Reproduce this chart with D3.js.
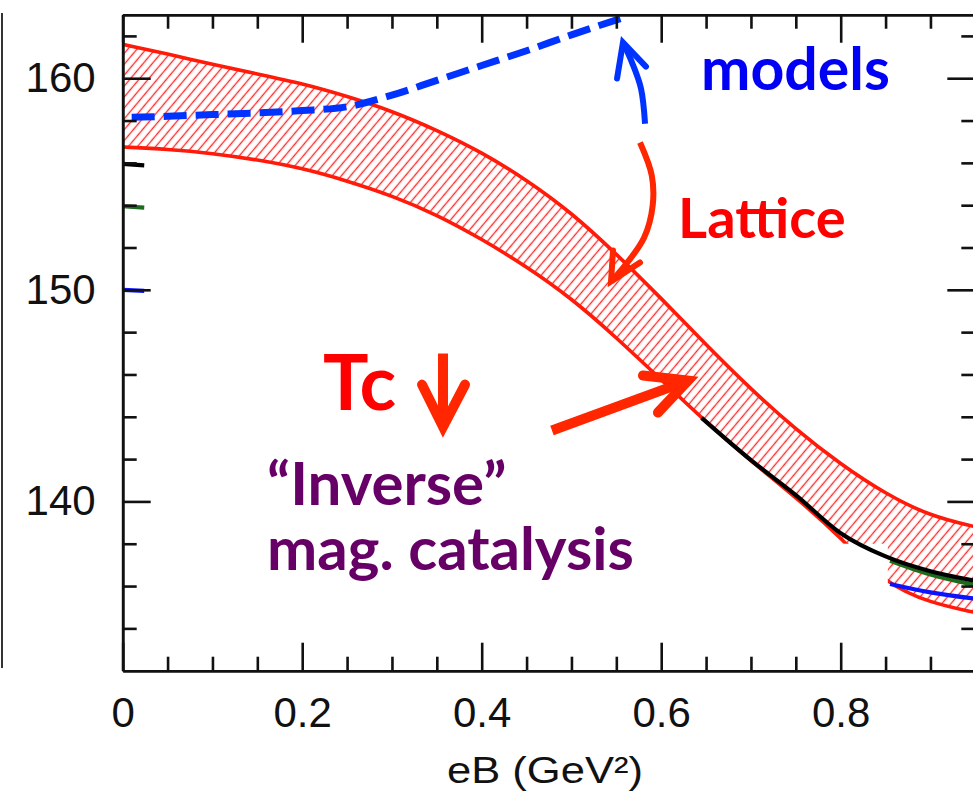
<!DOCTYPE html>
<html>
<head>
<meta charset="utf-8">
<script src="https://cdn.jsdelivr.net/npm/d3@7"></script>
<style>
  body { margin: 0; background: #fff; }
</style>
</head>
<body>
<div id="chart"></div>
<script>
// ---- data ----
const eB = [0, 0.05, 0.1, 0.15, 0.2, 0.25, 0.3, 0.35, 0.4, 0.45, 0.5,
            0.55, 0.6, 0.65, 0.7, 0.75, 0.8, 0.85, 0.9, 0.95];
const latticeUpper = [161.6, 161.15, 160.65, 160.2, 159.75, 159.15, 158.45, 157.55, 156.5, 155.2, 153.65,
                      151.7, 149.6, 147.4, 145.3, 143.4, 141.75, 140.35, 139.3, 138.8];
const latticeLower = [156.75, 156.65, 156.45, 156.15, 155.75, 155.15, 154.45, 153.55, 152.4, 151.1, 149.6,
                      147.75, 145.75, 143.75, 141.9, 140.2, 138.3, 136.1, 135.2, 134.75];

const modelsEB = [0.01, 0.05, 0.1, 0.15, 0.2, 0.25, 0.3, 0.35, 0.4, 0.45, 0.5, 0.557];
const modelsTc = [158.15, 158.2, 158.28, 158.36, 158.47, 158.65, 159.2, 159.9, 160.6, 161.3, 162.05, 162.85];

const tcZero = 157.68; // dotted reference line

// other curves, only the visible pieces (null = gap)
const blackCurve = [[0, 155.95], [0.024, 155.88], null,
                    [0.645, 143.95], [0.7, 141.95], [0.75, 140.3], [0.8, 138.5], [0.85, 137.4], [0.9, 136.7], [0.95, 136.25]];
const greenCurve = [[0, 153.95], [0.024, 153.88], null,
                    [0.855, 137.2], [0.9, 136.55], [0.95, 136.05]];
const blueCurve  = [[0, 150.0], [0.024, 149.95], null,
                    [0.855, 136.1], [0.9, 135.7], [0.95, 135.4]];

// white patch covering part of the band
const maskEB = [0.8024, 0.8525];
const maskTc = [135.9, 138.0];

const xMajor = [0, 0.2, 0.4, 0.6, 0.8];
const xMinor = d3.range(0, 0.951, 0.05).filter(v => !xMajor.some(m => Math.abs(m - v) < 1e-6));
const yMajor = [140, 150, 160];
const yMinor = d3.range(134, 163, 2).filter(v => !yMajor.includes(v));

// annotation arrows, in data units
const arrowModels  = { stem: [[0.582, 157.85], [0.5775, 159.51], [0.5675, 160.74], [0.5574, 161.69]],
                       head: [[0.5508, 159.99], [0.5574, 161.69], [0.583, 160.55]] };
const arrowLattice = { stem: [[0.5764, 156.96], [0.5895, 155.40], [0.5905, 153.98], [0.581, 152.47], [0.5597, 151.15], [0.5441, 150.39]],
                       head: [[0.5463, 151.86], [0.5441, 150.39], [0.5764, 151.29]] };
const arrowInverse = { stem: [[0.4783, 143.35], [0.6299, 145.71]],
                       head: [[0.5797, 145.95], [0.6299, 145.71], [0.5964, 144.2]] };
const arrowTc      = { stem: [[0.3569, 146.99], [0.3569, 143.53]],
                       head: [[0.3335, 145.52], [0.3569, 143.53], [0.3814, 145.52]] };

const labels = [
    { text: "models",          eB: 0.6444, tc: 159.42, size: 59, color: "#0000f5" },
    { text: "Lattice",         eB: 0.6188, tc: 152.47, size: 56, color: "#ff0000" },
    { text: "Tc",              eB: 0.2232, tc: 144.30, size: 76, color: "#ff0000" },
    { text: "\u201CInverse\u201D", eB: 0.1608, tc: 139.81, size: 60, color: "#660066" },
    { text: "mag. catalysis",  eB: 0.1608, tc: 136.74, size: 60, color: "#660066" }
];

// ---- chart ----
const width = 973;
const height = 792;

const svg = d3.select("#chart")
    .append("svg")
    .attr("width", width)
    .attr("height", height);

svg.append("rect")
    .attr("width", width)
    .attr("height", height)
    .attr("fill", "#fff");

const x = d3.scaleLinear()
    .domain([0, 0.95])
    .range([122.7, 122.7 + 0.95 * 897.5]);

const y = d3.scaleLinear()
    .domain([132, 163])
    .range([670.7, 670.7 - 31 * 21.16]);

const defs = svg.append("defs");

defs.append("clipPath")
    .attr("id", "plot")
    .append("rect")
    .attr("x", x(0))
    .attr("y", y(163))
    .attr("width", x(0.95) - x(0))
    .attr("height", y(132) - y(163));

const hatch = defs.append("pattern")
    .attr("id", "hatch")
    .attr("patternUnits", "userSpaceOnUse")
    .attr("width", 7)
    .attr("height", 20)
    .attr("patternTransform", "rotate(40)");
hatch.append("line")
    .attr("x1", 3.5).attr("x2", 3.5)
    .attr("y1", 0).attr("y2", 20)
    .attr("stroke", "#ff2a2a")
    .attr("stroke-width", 1.35);

const shadow = defs.append("filter")
    .attr("id", "shadow")
    .attr("x", "-5%").attr("y", "-100%")
    .attr("width", "110%").attr("height", "400%");
shadow.append("feDropShadow")
    .attr("dx", 0).attr("dy", 3)
    .attr("stdDeviation", 1.5)
    .attr("flood-color", "#888")
    .attr("flood-opacity", 0.45);

// left edge of the neighbouring panel
svg.append("line")
    .attr("x1", 2).attr("x2", 2)
    .attr("y1", 13).attr("y2", 668)
    .attr("stroke", "#333")
    .attr("stroke-width", 2);

const plot = svg.append("g")
    .attr("clip-path", "url(#plot)");

// lattice band
const bandData = eB.map((v, i) => ({ eB: v, hi: latticeUpper[i], lo: latticeLower[i] }));

const area = d3.area()
    .x(d => x(d.eB))
    .y0(d => y(d.lo))
    .y1(d => y(d.hi))
    .curve(d3.curveBasis);

plot.append("path")
    .datum(bandData)
    .attr("d", area)
    .attr("fill", "#fff");

plot.append("path")
    .datum(bandData)
    .attr("d", area)
    .attr("fill", "url(#hatch)");

const edge = key => d3.line()
    .x(d => x(d.eB))
    .y(d => y(d[key]))
    .curve(d3.curveBasis);

["hi", "lo"].forEach(k => {
    plot.append("path")
        .datum(bandData)
        .attr("d", edge(k))
        .attr("fill", "none")
        .attr("stroke", "#ff1a0a")
        .attr("stroke-width", 3.6);
});

plot.append("rect")
    .attr("x", x(maskEB[0]))
    .attr("y", y(maskTc[1]))
    .attr("width", x(maskEB[1]) - x(maskEB[0]))
    .attr("height", y(maskTc[0]) - y(maskTc[1]))
    .attr("fill", "#fff");

// other curves
const curveLine = d3.line()
    .defined(d => d !== null)
    .x(d => x(d[0]))
    .y(d => y(d[1]))
    .curve(d3.curveMonotoneX);

[[greenCurve, "#1d6b1d"], [blueCurve, "#0a14ff"], [blackCurve, "#000"]].forEach(([c, col]) => {
    plot.append("path")
        .datum(c)
        .attr("d", curveLine)
        .attr("fill", "none")
        .attr("stroke", col)
        .attr("stroke-width", 4.2);
});

// dotted line
plot.append("line")
    .attr("x1", x(0.011))
    .attr("x2", x(0.95))
    .attr("y1", y(tcZero))
    .attr("y2", y(tcZero))
    .attr("stroke", "#6a9bcf")
    .attr("stroke-width", 5)
    .attr("stroke-dasharray", "5,19")
    .attr("filter", "url(#shadow)");

// models dashed line
const models = modelsEB.map((v, i) => [v, modelsTc[i]]);
svg.append("path")
    .datum(models)
    .attr("d", curveLine)
    .attr("fill", "none")
    .attr("stroke", "#0033ff")
    .attr("stroke-width", 7)
    .attr("stroke-dasharray", "23,9");

// ---- axes ----
const fmt = d => d === 0 ? "0" : d.toFixed(1);

function styleAxis(g) {
    g.select(".domain").attr("stroke", "#111").attr("stroke-width", 2.6);
    g.selectAll(".tick line").attr("stroke", "#111").attr("stroke-width", 2.6);
    g.selectAll(".tick text")
        .attr("fill", "#111")
        .style("font-family", "'Liberation Sans', Arial, sans-serif")
        .style("font-size", "42px");
}

// bottom
svg.append("g")
    .attr("transform", `translate(0,${y(132)})`)
    .call(d3.axisBottom(x).tickValues(xMinor).tickSize(-14).tickSizeOuter(0).tickFormat(""))
    .call(styleAxis);
svg.append("g")
    .attr("transform", `translate(0,${y(132)})`)
    .call(d3.axisBottom(x).tickValues(xMajor).tickSize(-28).tickSizeOuter(0).tickPadding(26).tickFormat(fmt))
    .call(styleAxis);

// top
svg.append("g")
    .attr("transform", `translate(0,${y(163)})`)
    .call(d3.axisTop(x).tickValues(xMinor).tickSize(-14).tickSizeOuter(0).tickFormat(""))
    .call(styleAxis);
svg.append("g")
    .attr("transform", `translate(0,${y(163)})`)
    .call(d3.axisTop(x).tickValues(xMajor).tickSize(-28).tickSizeOuter(0).tickFormat(""))
    .call(styleAxis);

// left
svg.append("g")
    .attr("transform", `translate(${x(0)},0)`)
    .call(d3.axisLeft(y).tickValues(yMinor).tickSize(-14).tickSizeOuter(0).tickFormat(""))
    .call(styleAxis);
svg.append("g")
    .attr("transform", `translate(${x(0)},0)`)
    .call(d3.axisLeft(y).tickValues(yMajor).tickSize(-28).tickSizeOuter(0).tickPadding(27))
    .call(styleAxis);

// right
svg.append("g")
    .attr("transform", `translate(${x(0.95)},0)`)
    .call(d3.axisRight(y).tickValues(yMinor).tickSize(-14).tickSizeOuter(0).tickFormat(""))
    .call(styleAxis);
svg.append("g")
    .attr("transform", `translate(${x(0.95)},0)`)
    .call(d3.axisRight(y).tickValues(yMajor).tickSize(-28).tickSizeOuter(0).tickFormat(""))
    .call(styleAxis);

// x axis title
svg.append("text")
    .attr("x", 447)
    .attr("y", 783)
    .attr("fill", "#111")
    .attr("textLength", 196)
    .attr("lengthAdjust", "spacingAndGlyphs")
    .style("font-family", "'Liberation Sans', Arial, sans-serif")
    .style("font-size", "37px")
    .text("eB  (GeV\u00B2)");

// ---- annotations ----
const pts = d3.line()
    .x(d => x(d[0]))
    .y(d => y(d[1]));

const arrowSmooth = d3.line()
    .x(d => x(d[0]))
    .y(d => y(d[1]))
    .curve(d3.curveCatmullRom);

function drawArrow(a, color, w) {
    svg.append("path")
        .attr("d", arrowSmooth(a.stem))
        .attr("fill", "none")
        .attr("stroke", color)
        .attr("stroke-width", w)
        .attr("stroke-linecap", "butt");
    svg.append("path")
        .attr("d", pts(a.head))
        .attr("fill", "none")
        .attr("stroke", color)
        .attr("stroke-width", w)
        .attr("stroke-linecap", "round")
        .attr("stroke-linejoin", "miter");
}

drawArrow(arrowModels, "#0033ff", 6);
drawArrow(arrowLattice, "#ff2600", 6);
drawArrow(arrowInverse, "#ff2600", 10);
drawArrow(arrowTc, "#ff2600", 10);

svg.selectAll("text.note")
    .data(labels)
    .enter()
    .append("text")
    .attr("class", "note")
    .attr("x", d => x(d.eB))
    .attr("y", d => y(d.tc))
    .attr("fill", d => d.color)
    .style("font-family", "Lato, 'Open Sans', sans-serif")
    .style("font-weight", 700)
    .style("font-size", d => d.size + "px")
    .text(d => d.text);
</script>
</body>
</html>
